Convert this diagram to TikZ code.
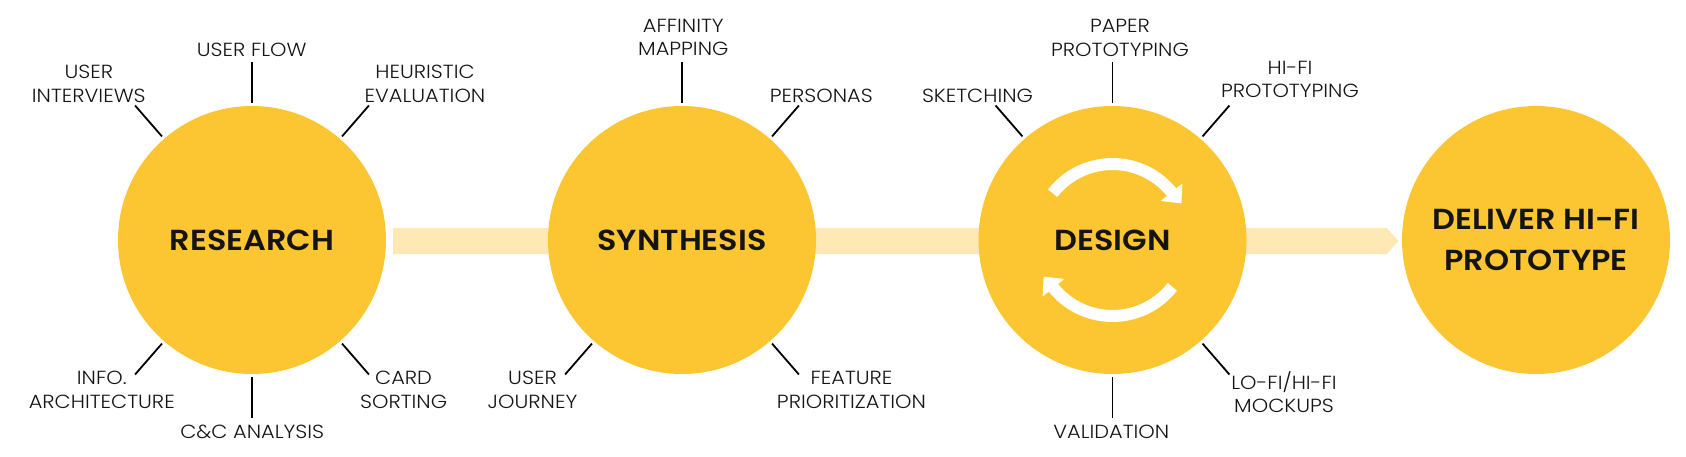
\documentclass[tikz,border=0pt]{standalone}
\usepackage{fontspec}
\setmainfont{Poppins}[UprightFont=* Light, BoldFont=* SemiBold, FakeStretch=1.1]
\usetikzlibrary{calc,backgrounds}
\definecolor{yel}{HTML}{FBC632}
\definecolor{barc}{HTML}{FEE9B4}
\definecolor{ink}{HTML}{141414}
\tikzset{
  phase/.style={circle, fill=yel, minimum size=268pt, inner sep=0pt,
    font=\fontsize{29}{40.6}\selectfont\bfseries, text=ink, align=center},
  lab/.style={anchor=north, inner sep=0pt, align=center,
    font=\fontsize{19}{23.5}\selectfont, text=ink},
  tk/.style={line width=1.8pt, draw=black},
  cyc/.style={draw=white, line width=12pt},
}
\newcommand\tck[2]{\draw[tk] ([shift={(#2:3pt)}]#1.#2) -- ([shift={(#2:44pt)}]#1.#2);}
\begin{document}
\begin{tikzpicture}[x=1pt,y=-1pt]
\useasboundingbox (0,0) rectangle (1686,456);
% phases
\node[phase] (R) at (252,240) {RESEARCH};
\node[phase] (S) at (682,240) {SYNTHESIS};
\node[phase] (D) at (1112.5,240) {DESIGN};
\node[phase] (V) at (1536,240) {DELIVER HI-FI\\PROTOTYPE};
% bar
\begin{scope}[on background layer]
\fill[barc] ($(R.east)+(7,-12)$) -- ($(V.west)+(-15,-12)$) -- ($(V.west)+(-3.5,1)$)
  -- ($(V.west)+(-15,14)$) -- ($(R.east)+(7,14)$) -- cycle;
\end{scope}
% ticks
\tck{R}{90}\tck{R}{131}\tck{R}{49}\tck{R}{229}\tck{R}{311}\tck{R}{270}
\tck{S}{90}\tck{S}{49}\tck{S}{311}\tck{S}{229}
\tck{D}{90}\tck{D}{131}\tck{D}{49}\tck{D}{311}\tck{D}{270}
% labels research
\node[lab] (r1) at (88.8,65) {USER\\INTERVIEWS};
\node[lab] (r2) at (251.7,43.3) {USER FLOW};
\node[lab] (r3) at (425,65) {HEURISTIC\\EVALUATION};
\node[lab] (r4) at (101.8,371) {INFO.\\ARCHITECTURE};
\node[lab] (r5) at (252.2,425) {C\&C ANALYSIS};
\node[lab] (r6) at (403.6,371) {CARD\\SORTING};
% labels synthesis
\node[lab] (s1) at (683.3,19) {AFFINITY\\MAPPING};
\node[lab] (s2) at (821.3,89) {PERSONAS};
\node[lab] (s3) at (532.5,371) {USER\\JOURNEY};
\node[lab] (s4) at (851.5,371) {FEATURE\\PRIORITIZATION};
% labels design
\node[lab] (d1) at (977.5,89.3) {SKETCHING};
\node[lab] (d2) at (1120,19) {PAPER\\PROTOTYPING};
\node[lab] (d3) at (1290,61) {HI-FI\\PROTOTYPING};
\node[lab] (d4) at (1284,371) {LO-FI/HI-FI\\MOCKUPS};
\node[lab] (d5) at (1111.3,425) {VALIDATION};
% cycle arrows
\draw[cyc] ($(D.center)+(142:76pt)$) arc[start angle=142, end angle=37, radius=76pt];
\fill[white] ($(D.center)+(39:62pt)$) -- ($(D.center)+(39:90pt)$) -- ($(D.center)+(28:78pt)$) -- cycle;
\draw[cyc] ($(D.center)+(-38:76pt)$) arc[start angle=-38, end angle=-143, radius=76pt];
\fill[white] ($(D.center)+(219:62pt)$) -- ($(D.center)+(219:90pt)$) -- ($(D.center)+(208:78pt)$) -- cycle;
\end{tikzpicture}
\end{document}
